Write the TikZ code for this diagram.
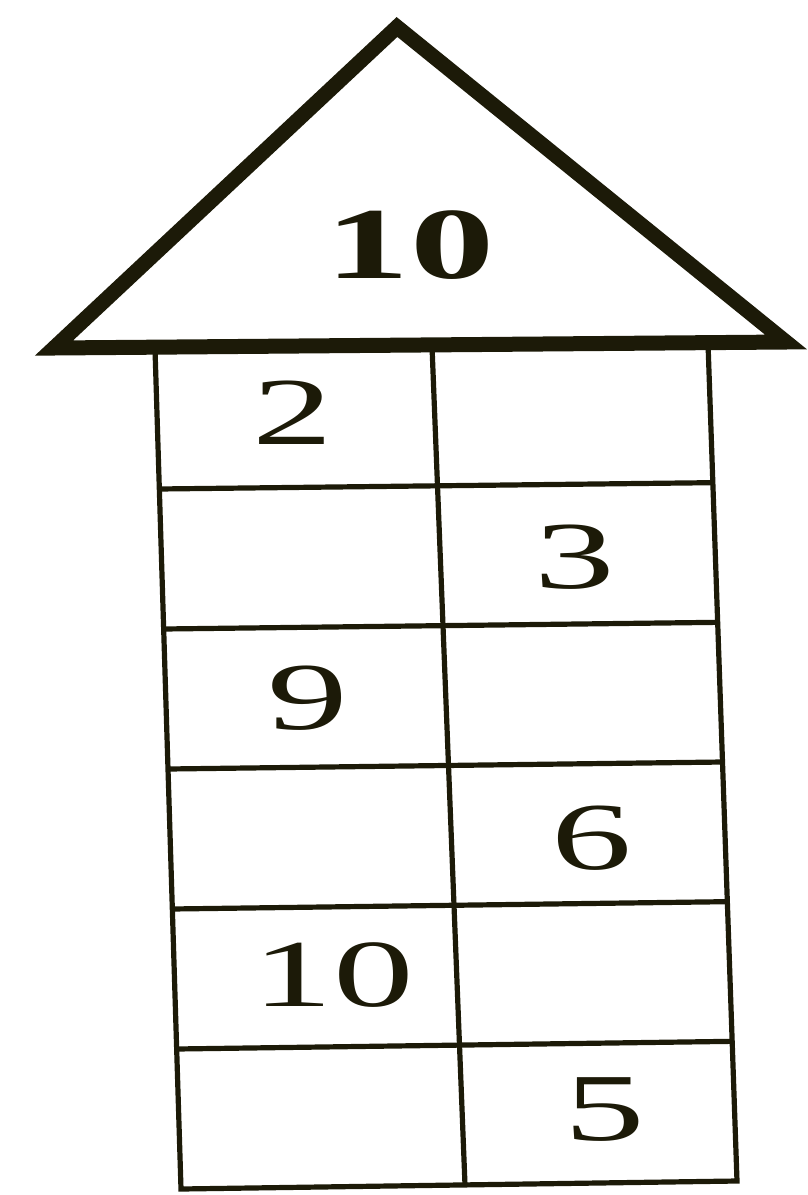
\documentclass[tikz,border=0pt]{standalone}
\usepackage{fontspec}
\setmainfont{Liberation Serif}
\newfontfamily\widedigits[FakeStretch=1.68]{Liberation Serif}
\newfontfamily\widebold[FakeStretch=1.65]{Liberation Serif Bold}
\usetikzlibrary{calc}
\definecolor{ink}{RGB}{28,26,8}
\tikzset{
  roofline/.style={draw=ink, line width=7.5pt, line join=miter},
  gridline/.style={draw=ink, line width=2.6pt},
  num/.style  ={text=ink, inner sep=0pt, font=\fontsize{48}{48}\selectfont\widedigits},
  numb/.style ={num, font=\fontsize{51}{51}\selectfont\widebold},
}

\begin{document}
\begin{tikzpicture}[x=0.5pt, y=-0.5pt]
\useasboundingbox (0,0) rectangle (808,1195);
% roof
\coordinate (apex) at (397,27);
\coordinate (eaveL) at (54,348);
\coordinate (eaveR) at (786,342);
\draw[roofline] (apex) -- (eaveL) -- (eaveR) -- cycle;
\node[numb] (sum) at (410,245) {10};
% body of the house
\coordinate (LT) at (155,349);
\coordinate (MT) at (432,346);
\coordinate (RT) at (708,343);
\coordinate (LB) at (181,1189);
\coordinate (MB) at (465,1185);
\coordinate (RB) at (737,1181);
\draw[gridline] (LT) -- (LB) -- (RB) -- (RT);
\draw[gridline] (MT) -- (MB);
\foreach \r in {1,...,5}
  \draw[gridline] ($(LT)!\r/6!(LB)$) -- ($(RT)!\r/6!(RB)$);
% numbers in the cells
\node[num] (c1) at (293,413) {2};
\node[num] (c2) at (575,557) {3};
\node[num] (c3) at (308,698) {9};
\node[num] (c4) at (592,838) {6};
\node[num] (c5) at (333,975) {10};
\node[num] (c6) at (605,1110) {5};
\end{tikzpicture}
\end{document}
